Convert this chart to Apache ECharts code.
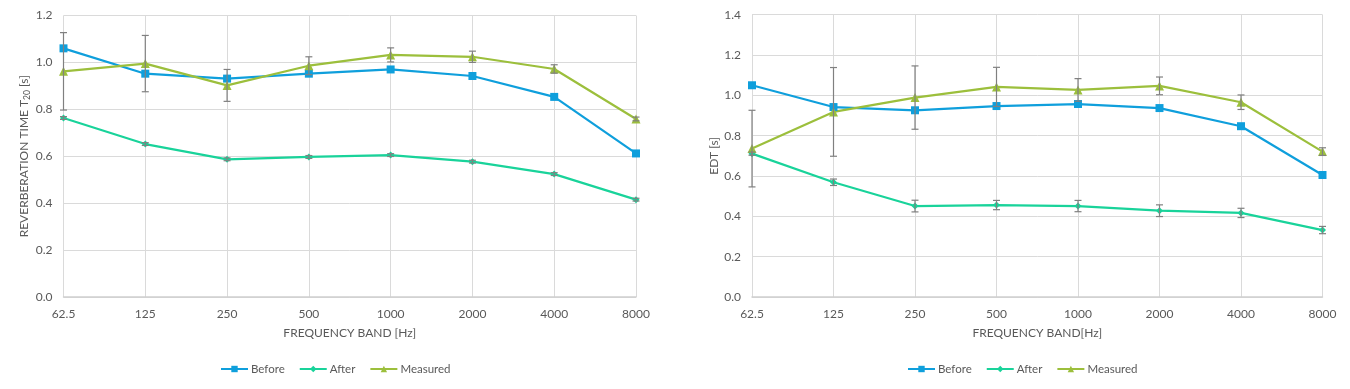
<!DOCTYPE html>
<html>
<head>
<meta charset="utf-8">
<script src="https://cdn.jsdelivr.net/npm/echarts@6/dist/echarts.min.js"></script>
<style>html,body{margin:0;padding:0;background:#fff}#c{width:1350px;height:389px}</style>
</head>
<body>
<div id="c"></div>
<script>
const categories = ['62.5','125','250','500','1000','2000','4000','8000'];
const t20Before   = [1.060, 0.952, 0.931, 0.952, 0.970, 0.942, 0.853, 0.612];
const t20After    = [0.763, 0.652, 0.587, 0.597, 0.605, 0.577, 0.524, 0.415];
const t20Measured = [0.962, 0.995, 0.902, 0.986, 1.032, 1.024, 0.972, 0.759];
const t20MeasuredErr = [0.165, 0.120, 0.068, 0.038, 0.030, 0.024, 0.018, 0.008];
const t20AfterErr    = [0.006, 0.006, 0.006, 0.006, 0.006, 0.006, 0.006, 0.006];
const edtBefore   = [1.050, 0.942, 0.926, 0.947, 0.957, 0.937, 0.847, 0.605];
const edtAfter    = [0.711, 0.569, 0.451, 0.456, 0.451, 0.428, 0.417, 0.332];
const edtMeasured = [0.736, 0.918, 0.989, 1.042, 1.027, 1.047, 0.966, 0.721];
const edtMeasuredErr = [0.190, 0.220, 0.157, 0.097, 0.056, 0.044, 0.036, 0.019];
const edtAfterErr    = [0.008, 0.016, 0.029, 0.023, 0.028, 0.029, 0.023, 0.018];

const C_BEFORE = '#0f9fdc', C_AFTER = '#19d39a', C_MEAS = '#9cbf3c';
const FONT = 'Lato, "Open Sans", sans-serif';
const TXT = '#595959';
const GRID = '#dadada';

function errData(vals, errs){ return vals.map((v,i)=>[i, v-errs[i], v+errs[i]]); }
function errSeries(vals, errs, idx){
  return {
    type:'custom', xAxisIndex:idx, yAxisIndex:idx, z:5, silent:true,
    data: errData(vals, errs), encode:{x:0, y:[1,2]},
    renderItem:function(params, api){
      const lo = api.coord([api.value(0), api.value(1)]);
      const hi = api.coord([api.value(0), api.value(2)]);
      const w = 3.5;
      const st = {stroke:'#808080', lineWidth:1.2};
      return {type:'group', children:[
        {type:'line', shape:{x1:lo[0],y1:lo[1],x2:hi[0],y2:hi[1]}, style:st},
        {type:'line', shape:{x1:lo[0]-w,y1:lo[1],x2:lo[0]+w,y2:lo[1]}, style:st},
        {type:'line', shape:{x1:hi[0]-w,y1:hi[1],x2:hi[0]+w,y2:hi[1]}, style:st}
      ]};
    }
  };
}
function lineSeries(name, data, color, symbol, size, idx){
  return {name, type:'line', xAxisIndex:idx, yAxisIndex:idx, data, symbol, symbolSize:size,
    lineStyle:{color, width:2.2}, itemStyle:{color}, z:3};
}
function xAxis(idx, name){
  return {type:'category', gridIndex:idx, data:categories, boundaryGap:false,
    name, nameLocation:'middle', nameGap:30,
    nameTextStyle:{color:TXT, fontFamily:FONT, fontSize:12},
    axisLine:{lineStyle:{color:'#d0d0d0', width:1.5}}, axisTick:{show:false},
    axisLabel:{color:TXT, fontFamily:FONT, fontSize:12, margin:11},
    splitLine:{show:true, lineStyle:{color:GRID, width:1}}};
}
function yAxis(idx, max, name, gap, rich){
  return {type:'value', gridIndex:idx, min:0, max, interval:0.2,
    name, nameLocation:'middle', nameGap:gap, nameRotate:90,
    nameTextStyle:{color:TXT, fontFamily:FONT, fontSize:12, rich:rich||{}},
    axisLine:{show:false}, axisTick:{show:false},
    axisLabel:{color:TXT, fontFamily:FONT, fontSize:12, margin:11, formatter:v=>v.toFixed(1)},
    splitLine:{show:true, lineStyle:{color:GRID, width:1}}};
}
const legendBase = {orient:'horizontal', top:363, padding:0, itemWidth:27, itemHeight:8, itemGap:14,
  textStyle:{color:TXT, fontFamily:FONT, fontSize:11.5, padding:[0,0,0,-2]}, data:['Before','After','Measured'], selectedMode:false};

const option = {
  animation:false,
  backgroundColor:'#fff',
  grid:[
    {left:63.5, right:714, top:15.5, bottom:92},
    {left:752, right:27.5, top:14.7, bottom:92}
  ],
  xAxis:[xAxis(0,'FREQUENCY BAND [Hz]'), xAxis(1,'FREQUENCY BAND[Hz]')],
  yAxis:[
    yAxis(0, 1.2, 'REVERBERATION TIME T{sub|20} [s]', 27, {sub:{fontSize:8.5, verticalAlign:'bottom', color:TXT, fontFamily:FONT, padding:[6,0,0,0]}}),
    yAxis(1, 1.4, 'EDT [s]', 32)
  ],
  legend:[
    Object.assign({left:220}, legendBase),
    Object.assign({left:907}, legendBase)
  ],
  series:[
    lineSeries('Before', t20Before, C_BEFORE, 'rect', 8, 0),
    lineSeries('After', t20After, C_AFTER, 'diamond', 7, 0),
    lineSeries('Measured', t20Measured, C_MEAS, 'triangle', 9, 0),
    errSeries(t20Measured, t20MeasuredErr, 0),
    errSeries(t20After, t20AfterErr, 0),
    lineSeries('Before', edtBefore, C_BEFORE, 'rect', 8, 1),
    lineSeries('After', edtAfter, C_AFTER, 'diamond', 7, 1),
    lineSeries('Measured', edtMeasured, C_MEAS, 'triangle', 9, 1),
    errSeries(edtMeasured, edtMeasuredErr, 1),
    errSeries(edtAfter, edtAfterErr, 1)
  ]
};
const chart = echarts.init(document.getElementById('c'), null, {renderer:'canvas'});
chart.setOption(option);
</script>
</body>
</html>
